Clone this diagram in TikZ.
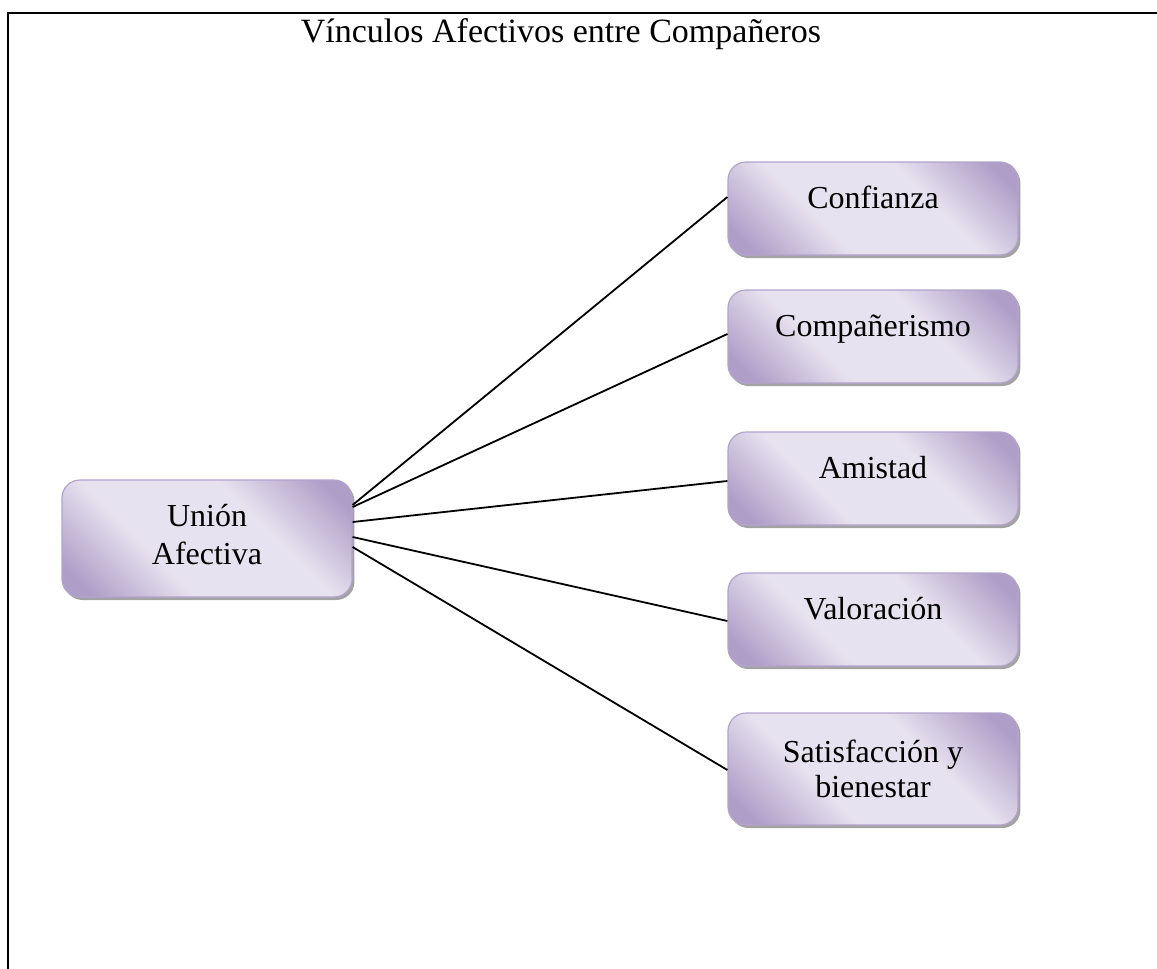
\documentclass[tikz,border=0pt]{standalone}
\usepackage{fontspec}
\setmainfont{Liberation Serif}
\usetikzlibrary{shadows}
\definecolor{pdark}{HTML}{AF9EC8}
\definecolor{plight}{HTML}{E7E2EF}
\definecolor{pborder}{HTML}{B3A4CE}
\pgfdeclarehorizontalshading{boxshade}{100bp}{color(0bp)=(pdark); color(20bp)=(pdark); color(38bp)=(plight); color(62bp)=(plight); color(80bp)=(pdark); color(100bp)=(pdark)}
\tikzset{
  box/.style={rounded corners=9pt, draw=pborder, line width=0.6pt,
    shading=boxshade, shading angle=45,
    drop shadow={shadow xshift=1.2pt, shadow yshift=-1.5pt, fill=black!45, opacity=0.8},
    minimum width=145pt, minimum height=46.5pt, inner sep=0pt,
    font=\fontsize{16}{19}\selectfont},
  onebox/.style={box, text height=12pt, text depth=12pt},
  conn/.style={draw=black, line width=0.9pt},
  frame/.style={draw=black, line width=1pt},
  titletext/.style={font=\fontsize{17}{20}\selectfont, anchor=base}
}
\begin{document}
\begin{tikzpicture}[x=0.5pt,y=-0.5pt]
\useasboundingbox (0,0) rectangle (1157,969);
\fill[white] (0,0) rectangle (1157,969);
\draw[frame] (8,969) -- (8,13) -- (1157,13);
\node[titletext] (title) at (561,42) {Vínculos Afectivos entre Compañeros};

\node[box, minimum height=58.5pt, align=center, text height=25.5pt, text depth=0pt] (u) at (207,538.5) {Unión\\Afectiva};
\node[onebox] (c1) at (873,208.5) {Confianza};
\node[onebox] (c2) at (873,336.5) {Compañerismo};
\node[onebox] (c3) at (873,478.5) {Amistad};
\node[onebox] (c4) at (873,619.5) {Valoración};
\node[box, minimum height=56pt, align=center, font=\fontsize{16}{17.5}\selectfont, text height=28pt, text depth=0pt] (c5) at (873,769) {Satisfacción y\\bienestar};

\draw[conn] ([yshift=16.75pt]u.east) -- ([yshift=5.75pt]c1.west);
\draw[conn] ([yshift=15.75pt]u.east) -- ([yshift=1.25pt]c2.west);
\draw[conn] ([yshift=8.25pt]u.east) -- ([yshift=-1.25pt]c3.west);
\draw[conn] ([yshift=0.75pt]u.east) -- ([yshift=-0.75pt]c4.west);
\draw[conn] ([yshift=-4.25pt]u.east) -- ([yshift=-0.5pt]c5.west);
\end{tikzpicture}
\end{document}
